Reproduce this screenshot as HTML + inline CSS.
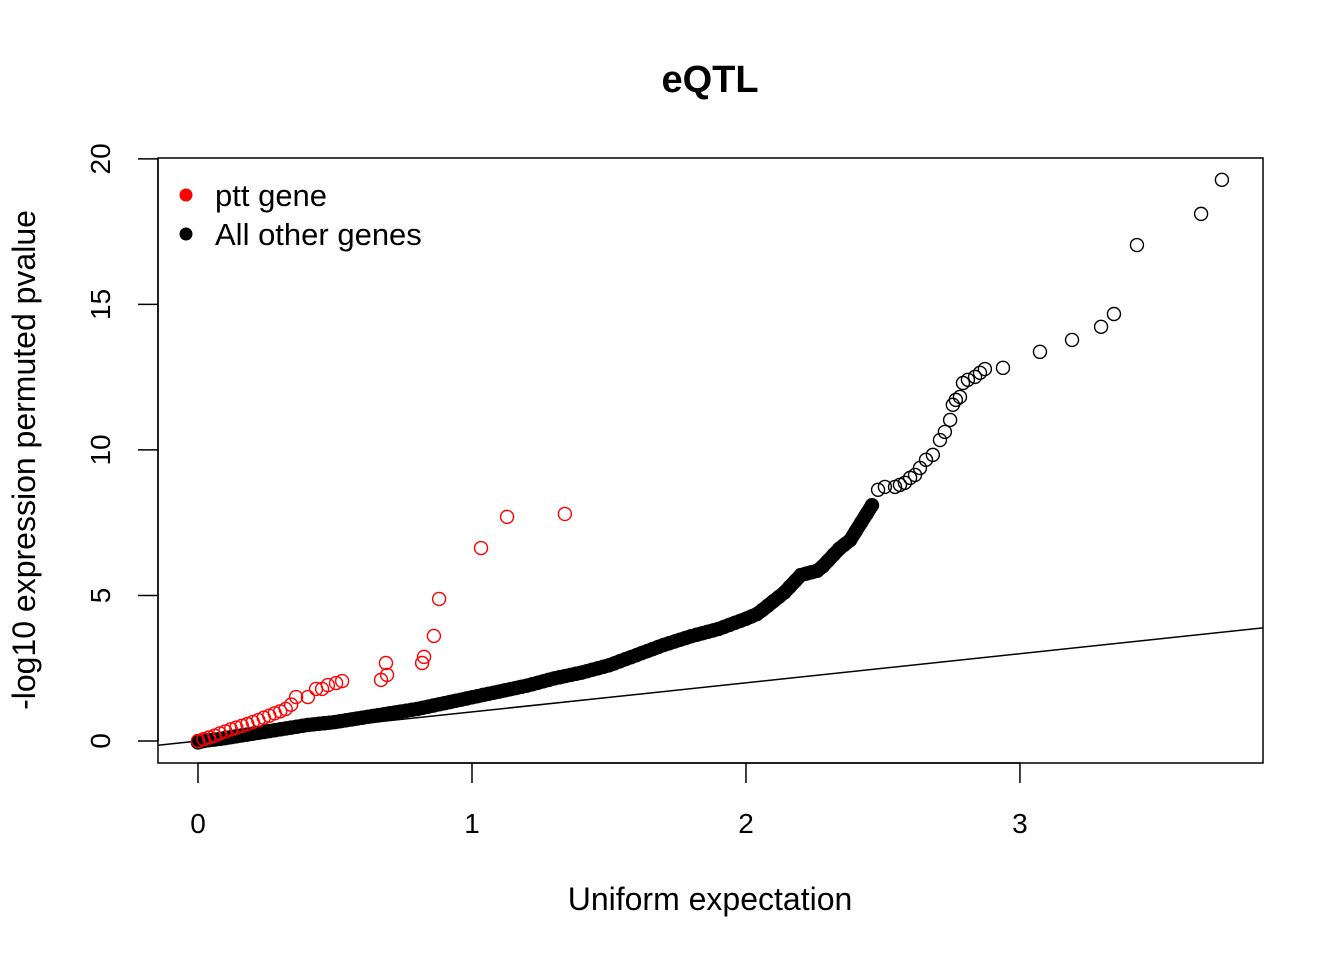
<!DOCTYPE html>
<html><head><meta charset="utf-8"><style>
html,body{margin:0;padding:0;background:#fff}
svg{display:block;font-family:"Liberation Sans",sans-serif}
</style></head><body>
<svg id="chart" width="1344" height="960" viewBox="0 0 1344 960">
<text x="710" y="92" text-anchor="middle" font-size="38" font-weight="bold">eQTL</text>
<text x="710" y="910" text-anchor="middle" font-size="32">Uniform expectation</text>
<text transform="translate(35,460) rotate(-90)" text-anchor="middle" font-size="32">-log10 expression permuted pvalue</text>
<g id="xaxis"></g>
<g id="yaxis"></g>
<g id="marks"></g>
<rect x="158" y="158" width="1105" height="605" fill="none" stroke="#000" stroke-width="1.5"/>
<g>
<circle cx="186" cy="195" r="6.5" fill="#f00"/>
<text x="215" y="206" font-size="31">ptt gene</text>
<circle cx="186" cy="234" r="6.5" fill="#000"/>
<text x="215" y="245" font-size="31">All other genes</text>
</g>
</svg>
<script>
const xTicks=[0,1,2,3];
const yTicks=[0,5,10,15,20];
const otherX=[0,0.02,0.04,0.06,0.08,0.10,0.12,0.14,0.16,0.18,0.20,0.22,0.24,0.26,0.28,0.30,0.32,0.34,0.36,0.38,0.40,0.42,0.44,0.46,0.48,0.50,0.52,0.54,0.56,0.58,0.60,0.62,0.64,0.66,0.68,0.70,0.72,0.74,0.76,0.78,0.80,0.82,0.84,0.86,0.88,0.90,0.92,0.94,0.96,0.98,1.00,1.02,1.04,1.06,1.08,1.10,1.12,1.14,1.16,1.18,1.20,1.22,1.24,1.26,1.28,1.30,1.32,1.34,1.36,1.38,1.40,1.42,1.44,1.46,1.48,1.50,1.52,1.54,1.56,1.58,1.60,1.62,1.64,1.66,1.68,1.70,1.72,1.74,1.76,1.78,1.80,1.82,1.84,1.86,1.88,1.90,1.92,1.94,1.96,1.98,2.00,2.02,2.04,2.06,2.08,2.10,2.12,2.14,2.16,2.18,2.20,2.22,2.24,2.26,2.28,2.30,2.32,2.34,2.36,2.38,2.40,2.42,2.44,2.46,
2.482,2.507,2.544,2.562,2.58,2.599,2.617,2.635,2.657,2.682,2.708,2.726,2.745,2.755,2.766,2.781,2.792,2.81,2.836,2.854,2.872,2.938,3.073,3.19,3.296,3.343,3.427,3.661,3.737];
const otherY=[-0.05,0.0,0.03,0.05,0.07,0.10,0.13,0.16,0.19,0.22,0.25,0.28,0.31,0.34,0.37,0.40,0.43,0.46,0.49,0.52,0.55,0.57,0.59,0.61,0.63,0.65,0.68,0.71,0.74,0.77,0.80,0.83,0.86,0.89,0.92,0.95,0.98,1.01,1.04,1.07,1.10,1.14,1.18,1.22,1.26,1.30,1.34,1.38,1.42,1.46,1.50,1.54,1.58,1.62,1.66,1.70,1.74,1.78,1.82,1.86,1.90,1.95,2.00,2.05,2.10,2.15,2.19,2.23,2.27,2.31,2.35,2.40,2.45,2.50,2.55,2.60,2.67,2.74,2.81,2.88,2.95,3.02,3.09,3.16,3.23,3.30,3.36,3.42,3.48,3.54,3.60,3.65,3.70,3.75,3.80,3.85,3.92,3.99,4.06,4.13,4.20,4.28,4.36,4.50,4.65,4.80,4.95,5.10,5.30,5.50,5.70,5.75,5.80,5.85,6.00,6.20,6.40,6.60,6.75,6.90,7.20,7.50,7.80,8.10,
8.63,8.73,8.73,8.80,8.87,9.04,9.14,9.38,9.66,9.83,10.34,10.62,11.03,11.55,11.72,11.82,12.30,12.41,12.51,12.65,12.78,12.82,13.37,13.78,14.23,14.67,17.04,18.11,19.28];
const denseCount=124; // points forming the solid band (x up to 2.46)
const pttX=[0,0.02,0.04,0.06,0.08,0.10,0.12,0.14,0.16,0.18,0.20,0.22,0.24,0.26,0.28,0.30,0.32,0.34,0.358,0.401,0.431,0.453,0.474,0.504,0.526,0.668,0.69,0.686,0.818,0.825,0.861,0.88,1.033,1.128,1.339];
const pttY=[0,0.06,0.12,0.18,0.26,0.33,0.40,0.46,0.52,0.58,0.65,0.72,0.80,0.87,0.95,1.02,1.10,1.25,1.51,1.51,1.79,1.79,1.92,1.99,2.06,2.10,2.27,2.68,2.68,2.89,3.61,4.88,6.63,7.70,7.80];
const X0=158,X1=1263,Y0=763,Y1=158,xmin=-0.146,xmax=3.887,ymin=-0.756,ymax=20.03;
const sx=v=>X0+(v-xmin)/(xmax-xmin)*(X1-X0);
const sy=v=>Y0-(v-ymin)/(ymax-ymin)*(Y0-Y1);
const NS="http://www.w3.org/2000/svg";
function mk(tag,attrs,parent){const e=document.createElementNS(NS,tag);for(const k in attrs)e.setAttribute(k,attrs[k]);parent.appendChild(e);return e;}
const xa=document.getElementById('xaxis'),ya=document.getElementById('yaxis'),mg=document.getElementById('marks');
mk('line',{x1:sx(xTicks[0]),x2:sx(xTicks[xTicks.length-1]),y1:763,y2:763,stroke:'#000','stroke-width':1.5},xa);
xTicks.forEach(t=>{
 const l=mk('line',{x1:sx(t),x2:sx(t),y1:763,y2:783,stroke:'#000','stroke-width':1.5},xa);
 
 
 const tx=mk('text',{x:sx(t),y:833,'text-anchor':'middle','font-size':28},xa);tx.textContent=t;
 
 
});
mk('line',{x1:158,x2:158,y1:sy(yTicks[0]),y2:sy(yTicks[yTicks.length-1]),stroke:'#000','stroke-width':1.5},ya);
yTicks.forEach(t=>{
 const l=mk('line',{x1:138,x2:158,y1:sy(t),y2:sy(t),stroke:'#000','stroke-width':1.5},ya);
 
 
 const tx=mk('text',{transform:`translate(110,${sy(t)}) rotate(-90)`,'text-anchor':'middle','font-size':28},ya);tx.textContent=t;
 
 
});
const cp=mk('clipPath',{id:'cp'},mg);mk('rect',{x:158,y:158,width:1105,height:605},cp);
const ref=mk('line',{x1:sx(xmin),y1:sy(xmin),x2:sx(xmax),y2:sy(xmax),stroke:'#000','stroke-width':1.5,'clip-path':'url(#cp)'},mg);


let pts=[];
for(let i=0;i<denseCount;i++)pts.push(sx(otherX[i])+','+sy(otherY[i]));
const band=mk('polyline',{points:pts.join(' '),fill:'none',stroke:'#000','stroke-width':14,'stroke-linecap':'round','stroke-linejoin':'round'},mg);


otherX.forEach((v,i)=>{
 const c=mk('circle',{cx:sx(v),cy:sy(otherY[i]),r:6.5,fill:'none',stroke:'#000','stroke-width':1.4},mg);
 
 
});
pttX.forEach((v,i)=>{
 const c=mk('circle',{cx:sx(v),cy:sy(pttY[i]),r:6.5,fill:'none',stroke:'#f00','stroke-width':1.4},mg);
 
 
});
</script>
</body></html>
